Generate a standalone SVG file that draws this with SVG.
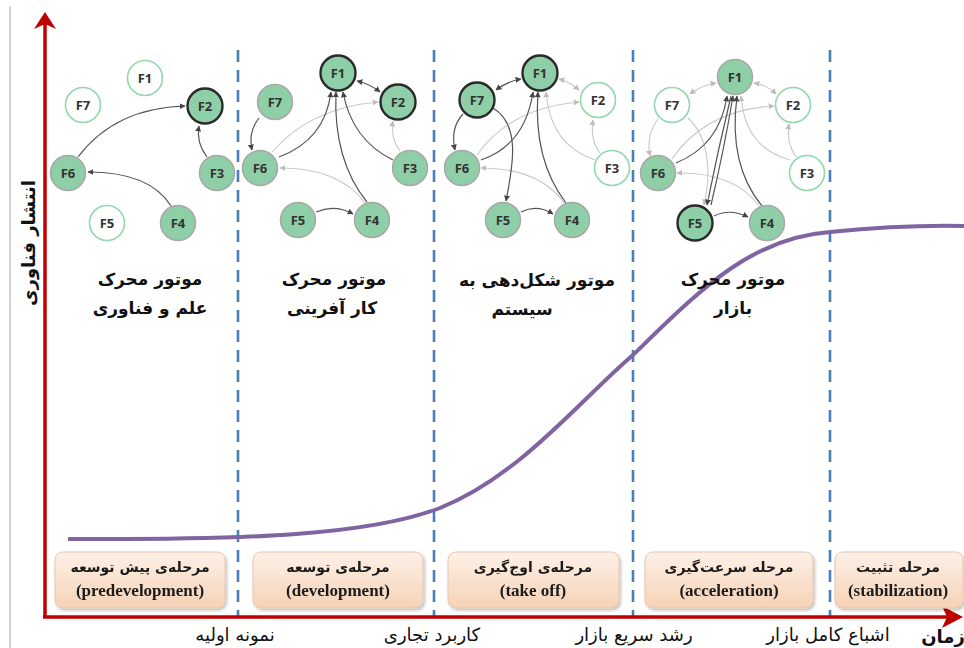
<svg xmlns="http://www.w3.org/2000/svg" width="964" height="648" viewBox="0 0 964 648">
<style>
.nf{fill:#8fcfa7;stroke:#a8a8a8;stroke-width:1.5}
.nd{fill:#8fcfa7;stroke:#2a2a2a;stroke-width:2.4}
.nw{fill:#ffffff;stroke:#92d8ab;stroke-width:1.6}
.nt{font-family:"Open Sans","Liberation Sans",sans-serif;font-weight:bold;font-size:13px;fill:#333;text-anchor:middle}
.ed{fill:none;stroke:#555;stroke-width:1.2;marker-end:url(#ad)}
.el{fill:none;stroke:#c8c8c8;stroke-width:1.1;marker-end:url(#al)}
.edd{marker-start:url(#ad)}
.eld{marker-start:url(#al)}
.dash{stroke:#4a7ebb;stroke-width:2.6;stroke-dasharray:12 8}
.title{font-family:"DejaVu Sans",sans-serif;font-weight:bold;font-size:17px;fill:#111;text-anchor:middle}
.box{fill:url(#bg);stroke:#e6c7ad;stroke-width:1}
.bfa{font-family:"DejaVu Sans",sans-serif;font-weight:bold;font-size:14px;fill:#1a1a1a;text-anchor:middle}
.ben{font-family:"Liberation Serif",serif;font-weight:bold;font-size:17px;fill:#1a1a1a;text-anchor:middle}
.ax{font-family:"DejaVu Sans",sans-serif;font-size:18px;fill:#111;text-anchor:middle}
</style>
<defs>
<marker id="ad" viewBox="0 0 10 10" refX="9" refY="5" markerWidth="6" markerHeight="6" markerUnits="userSpaceOnUse" orient="auto-start-reverse"><path d="M0,0 L10,5 L0,10 z" fill="#444"/></marker>
<marker id="al" viewBox="0 0 10 10" refX="9" refY="5" markerWidth="6" markerHeight="6" markerUnits="userSpaceOnUse" orient="auto-start-reverse"><path d="M0,0 L10,5 L0,10 z" fill="#bdbdbd"/></marker>
<linearGradient id="bg" x1="0" y1="0" x2="0" y2="1"><stop offset="0" stop-color="#fdf1e7"/><stop offset="1" stop-color="#f6d2b6"/></linearGradient>
<filter id="sh" x="-10%" y="-10%" width="120%" height="130%"><feDropShadow dx="1.5" dy="2" stdDeviation="1.5" flood-color="#000" flood-opacity="0.25"/></filter>
</defs>
<rect x="0" y="0" width="964" height="648" fill="#ffffff"/>
<line x1="10" y1="6" x2="10" y2="648" stroke="#d4d4d4" stroke-width="2"/>

<g id="dividers">
<line class="dash" x1="238" y1="50" x2="238" y2="617"/>
<line class="dash" x1="434" y1="50" x2="434" y2="617"/>
<line class="dash" x1="633" y1="50" x2="633" y2="617"/>
<line class="dash" x1="830" y1="50" x2="830" y2="617"/>
</g>

<path id="curve" d="M68,539 C250,540 370,535 440,508 C520,476 580,400 633,355 C700,290 750,238 830,232 C880,227 920,225 964,226" fill="none" stroke="#8064a2" stroke-width="4"/>

<g id="axes">
<line x1="45" y1="618" x2="45" y2="22" stroke="#c00000" stroke-width="3.5"/>
<polygon points="45,12 34,29 45,24 56,29" fill="#c00000"/>
<line x1="43" y1="617" x2="950" y2="617" stroke="#c00000" stroke-width="3.5"/>
<polygon points="963,617 942,606 947,617 942,628" fill="#c00000"/>
</g>

<g id="connectors">
<!-- panel 1 -->
<path class="ed" d="M78,157 Q115,108 185,106"/>
<path class="ed" d="M207,157 Q196,143 199,126"/>
<path class="ed" d="M171,206 Q150,172 88,172"/>
<!-- panel 2 -->
<path class="el" d="M272,152 Q310,108 378,102"/>
<path class="el" d="M400,151 Q390,138 393,121"/>
<path class="el" d="M366,204 Q340,168 280,168"/>
<path class="ed edd" d="M357,81 Q370,84 380,92"/>
<path class="ed" d="M259,118 Q248,132 252,150"/>
<path class="ed" d="M279,157 Q325,140 331,92"/>
<path class="ed" d="M367,202 Q333,160 336,92"/>
<path class="ed" d="M393,160 Q352,140 343,92"/>
<path class="ed" d="M316,212 Q335,204 353,214"/>
<!-- panel 3 -->
<path class="el eld" d="M559,79 Q570,82 579,90"/>
<path class="el" d="M477,155 Q510,108 579,102"/>
<path class="el" d="M565,204 Q540,168 481,168"/>
<path class="el" d="M600,153 Q590,140 593,120"/>
<path class="el" d="M595,160 Q550,145 546,92"/>
<path class="ed edd" d="M496,90 Q508,81 521,79"/>
<path class="ed" d="M463,114 Q450,128 455,150"/>
<path class="ed" d="M493,108 C522,125 512,170 506,201"/>
<path class="ed" d="M481,160 Q525,145 533,92"/>
<path class="ed" d="M566,203 Q533,160 538,92"/>
<path class="ed" d="M521,212 Q537,204 553,214"/>
<!-- panel 4 -->
<path class="el eld" d="M690,94 Q702,85 716,83"/>
<path class="el eld" d="M754,83 Q767,85 776,94"/>
<path class="el" d="M658,119 Q646,135 650,156"/>
<path class="el" d="M688,118 C712,140 710,180 704,205"/>
<path class="el" d="M672,159 Q705,110 774,106"/>
<path class="el" d="M760,207 Q735,172 677,173"/>
<path class="el" d="M796,157 Q786,143 789,124"/>
<path class="el" d="M790,160 Q745,148 741,96"/>
<path class="ed" d="M676,163 Q720,145 727,96"/>
<path class="ed" d="M731,96 Q718,150 707,205"/>
<path class="ed" d="M711,205 Q724,150 733,96"/>
<path class="ed" d="M762,206 Q728,165 737,96"/>
<path class="ed" d="M714,216 Q730,208 748,217"/>
</g>

<!-- panel 1 nodes -->
<g id="p1-F1"><circle class="nw" cx="145" cy="78" r="17.5"/><text class="nt" x="145" y="82.5">F1</text></g>
<g id="p1-F7"><circle class="nw" cx="83" cy="105" r="17.5"/><text class="nt" x="83" y="109.5">F7</text></g>
<g id="p1-F2"><circle class="nd" cx="205" cy="106" r="17.5"/><text class="nt" x="205" y="110.5">F2</text></g>
<g id="p1-F6"><circle class="nf" cx="68" cy="173" r="17.5"/><text class="nt" x="68" y="177.5">F6</text></g>
<g id="p1-F3"><circle class="nf" cx="217" cy="173" r="17.5"/><text class="nt" x="217" y="177.5">F3</text></g>
<g id="p1-F5"><circle class="nw" cx="107" cy="223" r="17.5"/><text class="nt" x="107" y="227.5">F5</text></g>
<g id="p1-F4"><circle class="nf" cx="178" cy="223" r="17.5"/><text class="nt" x="178" y="227.5">F4</text></g>

<!-- panel 2 nodes -->
<g id="p2-F1"><circle class="nd" cx="338" cy="73" r="17.5"/><text class="nt" x="338" y="77.5">F1</text></g>
<g id="p2-F2"><circle class="nd" cx="398" cy="102" r="17.5"/><text class="nt" x="398" y="106.5">F2</text></g>
<g id="p2-F7"><circle class="nf" cx="275" cy="102" r="17.5"/><text class="nt" x="275" y="106.5">F7</text></g>
<g id="p2-F6"><circle class="nf" cx="260" cy="168" r="17.5"/><text class="nt" x="260" y="172.5">F6</text></g>
<g id="p2-F3"><circle class="nf" cx="410" cy="168" r="17.5"/><text class="nt" x="410" y="172.5">F3</text></g>
<g id="p2-F5"><circle class="nf" cx="298" cy="220" r="17.5"/><text class="nt" x="298" y="224.5">F5</text></g>
<g id="p2-F4"><circle class="nf" cx="372" cy="220" r="17.5"/><text class="nt" x="372" y="224.5">F4</text></g>

<!-- panel 3 nodes -->
<g id="p3-F1"><circle class="nd" cx="540" cy="73" r="17.5"/><text class="nt" x="540" y="77.5">F1</text></g>
<g id="p3-F7"><circle class="nd" cx="477" cy="100" r="17.5"/><text class="nt" x="477" y="104.5">F7</text></g>
<g id="p3-F2"><circle class="nw" cx="598" cy="100" r="17.5"/><text class="nt" x="598" y="104.5">F2</text></g>
<g id="p3-F6"><circle class="nf" cx="462" cy="168" r="17.5"/><text class="nt" x="462" y="172.5">F6</text></g>
<g id="p3-F3"><circle class="nw" cx="612" cy="168" r="17.5"/><text class="nt" x="612" y="172.5">F3</text></g>
<g id="p3-F5"><circle class="nf" cx="503" cy="220" r="17.5"/><text class="nt" x="503" y="224.5">F5</text></g>
<g id="p3-F4"><circle class="nf" cx="572" cy="220" r="17.5"/><text class="nt" x="572" y="224.5">F4</text></g>

<!-- panel 4 nodes -->
<g id="p4-F1"><circle class="nf" cx="735" cy="77" r="17.5"/><text class="nt" x="735" y="81.5">F1</text></g>
<g id="p4-F7"><circle class="nw" cx="672" cy="105" r="17.5"/><text class="nt" x="672" y="109.5">F7</text></g>
<g id="p4-F2"><circle class="nw" cx="793" cy="105" r="17.5"/><text class="nt" x="793" y="109.5">F2</text></g>
<g id="p4-F6"><circle class="nf" cx="658" cy="173" r="17.5"/><text class="nt" x="658" y="177.5">F6</text></g>
<g id="p4-F3"><circle class="nw" cx="807" cy="173" r="17.5"/><text class="nt" x="807" y="177.5">F3</text></g>
<g id="p4-F5"><circle class="nd" cx="695" cy="223" r="17.5"/><text class="nt" x="695" y="227.5">F5</text></g>
<g id="p4-F4"><circle class="nf" cx="767" cy="223" r="17.5"/><text class="nt" x="767" y="227.5">F4</text></g>

<g id="titles">
<text class="title" x="150" y="285">موتور محرک</text>
<text class="title" x="150" y="314">علم و فناوری</text>
<text class="title" x="334" y="285">موتور محرک</text>
<text class="title" x="332" y="314">کار آفرینی</text>
<text class="title" x="537" y="286">موتور شکل‌دهی به</text>
<text class="title" x="522" y="315">سیستم</text>
<text class="title" x="733" y="285">موتور محرک</text>
<text class="title" x="733" y="314">بازار</text>
</g>

<g id="stage-1" filter="url(#sh)"><rect class="box" x="55" y="552" width="170" height="56" rx="8"/><text class="bfa" x="140" y="572">مرحله‌ی پیش توسعه</text><text class="ben" x="140" y="596">(predevelopment)</text></g>
<g id="stage-2" filter="url(#sh)"><rect class="box" x="253" y="552" width="170" height="56" rx="8"/><text class="bfa" x="338" y="572">مرحله‌ی توسعه</text><text class="ben" x="338" y="596">(development)</text></g>
<g id="stage-3" filter="url(#sh)"><rect class="box" x="448" y="552" width="171" height="56" rx="8"/><text class="bfa" x="533" y="572">مرحله‌ی اوج‌گیری</text><text class="ben" x="533" y="596">(take off)</text></g>
<g id="stage-4" filter="url(#sh)"><rect class="box" x="645" y="552" width="168" height="56" rx="8"/><text class="bfa" x="729" y="572">مرحله سرعت‌گیری</text><text class="ben" x="729" y="596">(acceleration)</text></g>
<g id="stage-5" filter="url(#sh)"><rect class="box" x="835" y="552" width="128" height="56" rx="8"/><text class="bfa" x="898" y="572">مرحله تثبیت</text><text class="ben" x="898" y="596">(stabilization)</text></g>

<g id="axis-labels">
<text class="ax" x="235" y="641">نمونه اولیه</text>
<text class="ax" x="432" y="641">کاربرد تجاری</text>
<text class="ax" x="634" y="641">رشد سریع بازار</text>
<text class="ax" x="828" y="641">اشباع کامل بازار</text>
<text class="ax" x="943" y="643" font-weight="bold">زمان</text>
<text class="ax" font-weight="bold" transform="translate(35,243) rotate(-90)">انتشار فناوری</text>
</g>
</svg>
